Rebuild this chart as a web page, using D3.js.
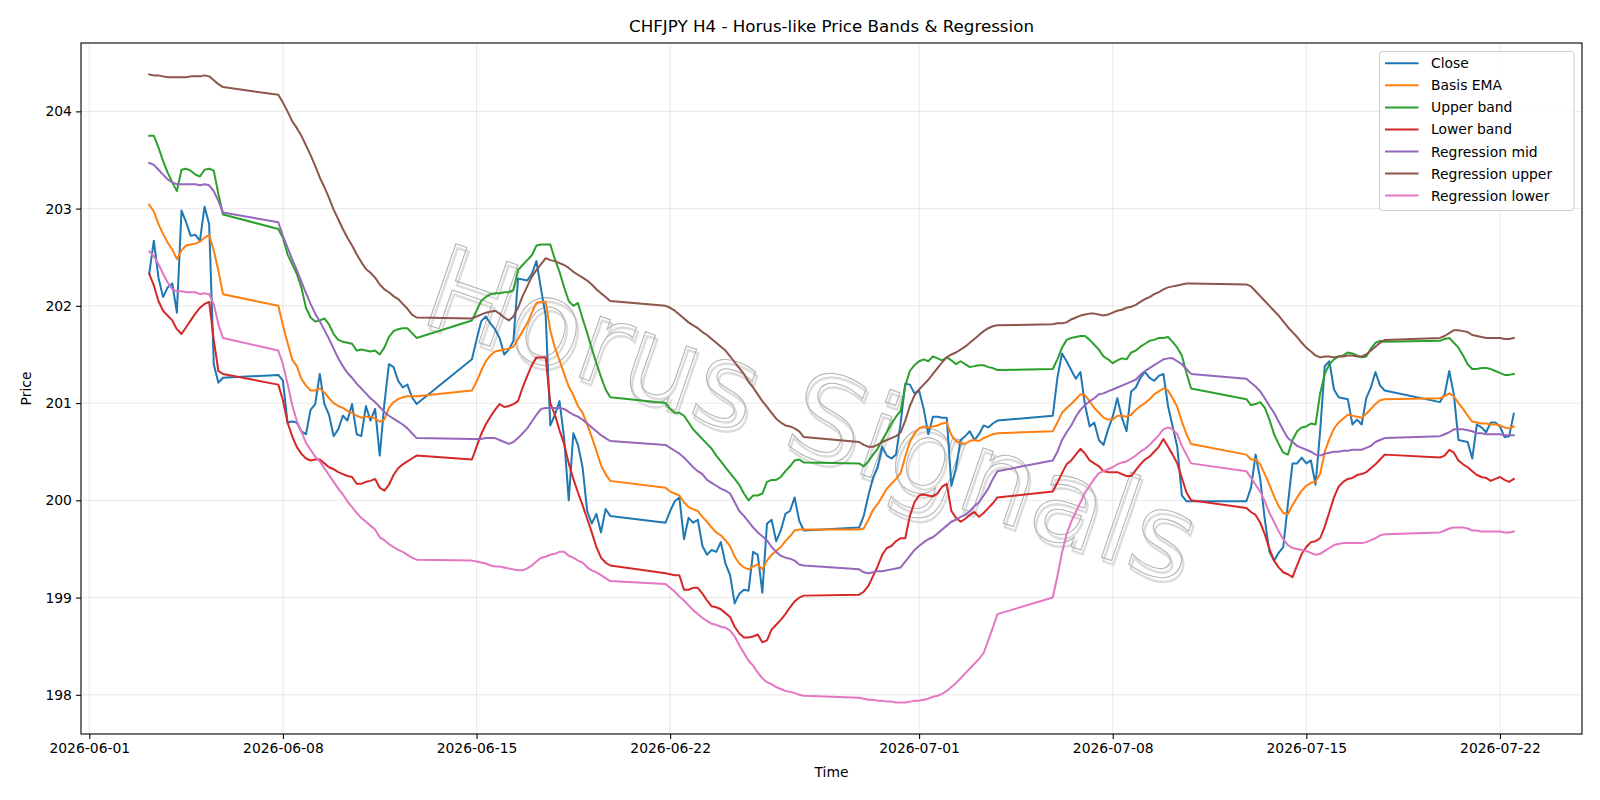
<!DOCTYPE html>
<html><head><meta charset="utf-8">
<script src="https://cdn.jsdelivr.net/npm/d3@7"></script>
<style>
body{margin:0;background:#fff}
svg{display:block}
text{font-family:"DejaVu Sans",sans-serif}
</style>
</head><body>
<svg id="chart" width="1600" height="800"></svg>
<script>
// ---- trading sessions (4h bars, weekend gaps) ----
const sessions = [
  ["2026-06-03T04:00:00Z","2026-06-05T20:00:00Z"],
  ["2026-06-07T20:00:00Z","2026-06-12T20:00:00Z"],
  ["2026-06-14T20:00:00Z","2026-06-19T20:00:00Z"],
  ["2026-06-21T20:00:00Z","2026-06-26T20:00:00Z"],
  ["2026-06-28T20:00:00Z","2026-07-03T20:00:00Z"],
  ["2026-07-05T20:00:00Z","2026-07-10T20:00:00Z"],
  ["2026-07-12T20:00:00Z","2026-07-17T20:00:00Z"],
  ["2026-07-19T20:00:00Z","2026-07-22T12:00:00Z"]
];

const close = [
202.33,202.67,202.29,202.09,202.19,202.23,201.93,202.98,202.86,202.72,202.73,202.67,203.02,202.84,201.40,201.21,201.26,
201.29,201.23,200.80,200.81,200.80,200.71,200.68,200.93,200.99,201.30,200.99,200.88,200.66,200.73,200.87,200.82,200.99,200.68,200.66,200.97,200.82,200.94,200.46,200.99,201.40,201.37,201.23,201.16,201.19,201.06,200.99,
201.45,201.65,201.84,201.89,201.82,201.76,201.67,201.50,201.55,201.64,202.28,202.27,202.26,202.33,202.46,202.17,201.90,200.77,200.88,201.02,200.64,200.00,200.69,200.57,200.34,199.89,199.76,199.86,199.67,199.91,199.84,
199.77,199.89,199.99,200.03,199.60,199.82,199.77,199.80,199.53,199.44,199.49,199.47,199.57,199.35,199.23,198.94,199.04,199.08,199.07,199.47,199.44,199.05,199.76,199.80,199.58,199.69,199.86,199.89,200.03,199.79,199.69,
199.72,199.84,200.05,200.23,200.34,200.55,200.46,200.43,200.47,200.80,201.20,201.19,201.10,201.13,200.94,200.68,200.86,200.86,200.85,200.85,200.15,200.33,200.62,200.66,200.71,200.62,200.68,200.77,200.75,200.79,200.82,
200.87,201.26,201.51,201.43,201.34,201.25,201.32,200.98,200.76,200.80,200.62,200.57,200.73,200.86,201.05,200.85,200.71,201.12,201.16,201.26,201.32,201.26,201.23,201.28,201.30,200.97,200.76,200.55,200.05,199.99,199.99,
199.99,200.13,200.47,200.22,199.80,199.47,199.38,199.46,199.52,199.96,200.38,200.38,200.44,200.38,200.41,200.16,200.71,201.38,201.43,201.14,201.06,201.05,201.04,200.78,200.83,200.78,201.05,201.16,201.32,201.18,201.13,
201.01,201.09,201.33,201.09,200.62,200.61,200.60,200.43,200.78,200.75,200.70,200.80,200.80,200.76,200.65,200.66,200.89
];

const basisEma = [
203.04,202.97,202.84,202.74,202.65,202.58,202.48,202.57,202.62,202.63,202.64,202.66,202.70,202.73,202.57,202.36,202.12,
202.00,201.80,201.62,201.45,201.38,201.25,201.18,201.13,201.13,201.15,201.11,201.05,201.00,200.97,200.95,200.92,200.90,200.87,200.85,200.86,200.86,200.84,200.81,200.83,200.95,201.01,201.04,201.06,201.07,201.07,201.07,
201.13,201.22,201.33,201.43,201.49,201.53,201.54,201.55,201.56,201.58,201.66,201.74,201.82,201.93,202.03,202.04,202.04,201.75,201.57,201.44,201.30,201.17,201.08,200.97,200.90,200.78,200.65,200.51,200.36,200.27,200.20,
200.13,200.09,200.07,200.05,199.98,199.93,199.91,199.89,199.83,199.78,199.72,199.67,199.64,199.59,199.53,199.42,199.35,199.31,199.29,199.32,199.34,199.29,199.38,199.44,199.48,199.52,199.58,199.63,199.69,199.70,199.70,
199.70,199.71,199.80,199.90,199.96,200.04,200.12,200.17,200.22,200.28,200.45,200.60,200.69,200.74,200.76,200.75,200.76,200.77,200.79,200.80,200.67,200.61,200.59,200.58,200.61,200.62,200.61,200.64,200.66,200.68,200.69,
200.71,200.80,200.90,200.95,200.99,201.04,201.09,201.08,201.02,200.95,200.90,200.85,200.83,200.83,200.87,200.87,200.86,200.88,200.93,200.97,201.00,201.04,201.09,201.12,201.15,201.13,201.05,200.96,200.81,200.68,200.58,
200.47,200.42,200.42,200.37,200.27,200.16,200.04,199.94,199.87,199.86,199.95,200.03,200.10,200.15,200.18,200.19,200.27,200.50,200.63,200.74,200.80,200.84,200.88,200.87,200.86,200.85,200.89,200.94,200.99,201.03,201.04,
201.05,201.07,201.10,201.07,201.00,200.94,200.87,200.81,200.80,200.79,200.79,200.78,200.78,200.77,200.75,200.74,200.76
];

const upperBand = [
203.75,203.75,203.63,203.49,203.37,203.27,203.18,203.40,203.41,203.39,203.35,203.33,203.40,203.41,203.39,203.15,202.94,
202.79,202.70,202.53,202.43,202.33,202.19,201.98,201.88,201.84,201.85,201.87,201.81,201.71,201.65,201.63,201.62,201.61,201.54,201.55,201.54,201.53,201.54,201.50,201.57,201.68,201.74,201.76,201.77,201.77,201.72,201.67,
201.85,201.95,202.05,202.09,202.12,202.13,202.13,202.14,202.14,202.16,202.37,202.42,202.47,202.52,202.62,202.63,202.63,202.63,202.48,202.35,202.19,202.05,202.00,202.03,201.87,201.72,201.56,201.41,201.27,201.14,201.06,
201.00,200.94,200.90,200.90,200.87,200.80,200.73,200.68,200.63,200.58,200.53,200.46,200.40,200.34,200.28,200.22,200.16,200.07,200.00,200.05,200.05,200.07,200.19,200.21,200.21,200.24,200.30,200.35,200.41,200.42,200.39,
200.38,200.35,200.40,200.47,200.53,200.62,200.70,200.79,200.86,200.92,201.18,201.33,201.39,201.43,201.45,201.43,201.48,201.46,201.44,201.47,201.44,201.40,201.43,201.40,201.37,201.38,201.39,201.39,201.37,201.36,201.34,
201.35,201.45,201.57,201.65,201.67,201.68,201.69,201.69,201.65,201.60,201.55,201.48,201.45,201.41,201.44,201.46,201.45,201.52,201.54,201.58,201.61,201.64,201.65,201.67,201.67,201.68,201.63,201.57,201.49,201.31,201.15,
201.04,200.98,200.99,201.01,200.95,200.83,200.68,200.58,200.49,200.47,200.62,200.71,200.75,200.76,200.79,200.78,201.10,201.30,201.40,201.45,201.48,201.49,201.52,201.51,201.49,201.47,201.48,201.56,201.62,201.64,201.63,
201.64,201.66,201.67,201.62,201.57,201.49,201.40,201.35,201.35,201.36,201.36,201.35,201.33,201.31,201.29,201.29,201.30
];

const lowerBand = [
202.33,202.21,202.05,201.95,201.90,201.85,201.76,201.71,201.78,201.85,201.92,201.98,202.02,202.04,201.65,201.33,201.30,
201.19,201.03,200.80,200.66,200.55,200.48,200.43,200.41,200.42,200.42,200.38,200.34,200.32,200.29,200.27,200.25,200.24,200.17,200.17,200.19,200.20,200.22,200.13,200.10,200.16,200.26,200.33,200.37,200.40,200.43,200.46,
200.42,200.55,200.68,200.78,200.86,200.93,200.99,200.96,200.97,200.99,201.02,201.16,201.28,201.39,201.47,201.47,201.47,201.00,200.88,200.72,200.58,200.38,200.22,200.08,199.95,199.81,199.67,199.52,199.41,199.36,199.33,
199.25,199.24,199.23,199.23,199.08,199.08,199.10,199.10,199.04,198.97,198.91,198.90,198.88,198.84,198.80,198.70,198.63,198.59,198.59,198.60,198.62,198.54,198.56,198.67,198.72,198.77,198.83,198.90,198.96,199.00,199.02,
199.03,199.06,199.12,199.22,199.32,199.44,199.51,199.53,199.58,199.61,199.61,199.84,199.98,200.05,200.06,200.05,200.04,200.07,200.14,200.17,199.89,199.82,199.78,199.81,199.85,199.88,199.83,199.87,199.92,199.97,200.03,
200.09,200.18,200.28,200.37,200.41,200.47,200.53,200.48,200.41,200.38,200.35,200.30,200.29,200.29,200.29,200.27,200.25,200.25,200.31,200.37,200.42,200.45,200.50,200.55,200.63,200.55,200.47,200.38,200.23,200.08,200.00,
199.92,199.88,199.85,199.77,199.65,199.50,199.38,199.31,199.26,199.24,199.21,199.33,199.45,199.52,199.57,199.58,199.61,199.73,199.88,200.03,200.14,200.19,200.22,200.23,200.26,200.27,200.29,200.33,200.37,200.42,200.47,
200.44,200.46,200.52,200.49,200.41,200.37,200.34,200.30,200.26,200.24,200.23,200.20,200.22,200.24,200.21,200.19,200.22
];

const regMid = [
203.47,203.45,203.40,203.35,203.30,203.27,203.25,203.25,203.25,203.25,203.25,203.24,203.25,203.24,203.18,203.08,202.96,
202.86,202.72,202.60,202.48,202.37,202.25,202.13,202.02,201.92,201.84,201.75,201.66,201.56,201.46,201.38,201.31,201.26,201.20,201.15,201.10,201.05,201.01,200.96,200.91,200.87,200.84,200.81,200.78,200.74,200.69,200.64,
200.63,200.63,200.63,200.64,200.64,200.64,200.62,200.60,200.58,200.60,200.64,200.69,200.74,200.81,200.88,200.94,200.95,200.95,200.95,200.95,200.94,200.91,200.88,200.86,200.83,200.79,200.75,200.71,200.67,200.64,200.61,
200.57,200.54,200.51,200.48,200.44,200.39,200.34,200.30,200.27,200.21,200.18,200.15,200.12,200.10,200.07,199.98,199.89,199.84,199.78,199.72,199.67,199.63,199.59,199.52,199.47,199.43,199.41,199.40,199.38,199.34,199.33,
199.29,199.26,199.25,199.26,199.27,199.27,199.28,199.29,199.30,199.31,199.37,199.43,199.49,199.53,199.57,199.60,199.62,199.66,199.70,199.74,199.78,199.80,199.83,199.85,199.89,199.94,199.98,200.05,200.12,200.22,200.30,
200.41,200.50,200.62,200.70,200.77,200.86,200.93,200.98,201.02,201.05,201.09,201.10,201.12,201.14,201.16,201.18,201.20,201.22,201.24,201.29,201.33,201.36,201.39,201.42,201.45,201.46,201.46,201.43,201.40,201.35,201.30,
201.25,201.21,201.17,201.12,201.05,200.97,200.90,200.81,200.72,200.64,200.60,200.56,200.54,200.52,200.50,200.47,200.46,200.48,200.49,200.50,200.50,200.51,200.51,200.52,200.52,200.52,200.54,200.56,200.60,200.62,200.64,
200.66,200.68,200.70,200.73,200.73,200.73,200.72,200.71,200.69,200.69,200.68,200.68,200.68,200.68,200.67,200.67,200.67
];

const regUpper = [
204.38,204.37,204.37,204.36,204.35,204.35,204.35,204.35,204.35,204.36,204.36,204.36,204.37,204.36,204.32,204.28,204.25,
204.17,204.09,204.00,203.90,203.83,203.75,203.65,203.55,203.44,203.32,203.22,203.11,202.99,202.89,202.79,202.70,202.62,202.53,202.45,202.38,202.34,202.29,202.22,202.17,202.14,202.10,202.07,202.02,201.97,201.91,201.88,
201.87,201.89,201.91,201.93,201.94,201.95,201.92,201.88,201.85,201.89,201.98,202.10,202.20,202.30,202.37,202.43,202.49,202.47,202.46,202.44,202.42,202.39,202.35,202.32,202.29,202.26,202.22,202.17,202.13,202.09,202.05,
202.00,201.98,201.95,201.91,201.87,201.83,201.80,201.77,201.73,201.70,201.66,201.62,201.58,201.54,201.48,201.42,201.36,201.30,201.22,201.16,201.09,201.02,200.96,200.90,200.84,200.80,200.77,200.76,200.74,200.71,200.65,
200.60,200.57,200.55,200.55,200.57,200.60,200.62,200.64,200.66,200.70,200.82,200.97,201.08,201.14,201.19,201.24,201.30,201.36,201.42,201.47,201.50,201.52,201.55,201.58,201.62,201.66,201.70,201.74,201.77,201.79,201.80,
201.81,201.82,201.82,201.83,201.86,201.88,201.90,201.91,201.92,201.92,201.91,201.90,201.91,201.93,201.95,201.96,201.98,201.99,202.01,202.04,202.07,202.09,202.12,202.14,202.17,202.19,202.20,202.21,202.22,202.23,202.23,
202.22,202.20,202.15,202.10,202.05,202.00,201.95,201.90,201.84,201.78,201.73,201.68,201.62,201.57,201.53,201.49,201.47,201.48,201.48,201.47,201.48,201.48,201.49,201.49,201.48,201.48,201.50,201.54,201.58,201.62,201.65,
201.67,201.69,201.72,201.75,201.75,201.74,201.73,201.70,201.69,201.68,201.67,201.67,201.67,201.67,201.66,201.66,201.67
];

const regLower = [
202.56,202.51,202.43,202.33,202.24,202.17,202.15,202.15,202.14,202.14,202.14,202.12,202.13,202.12,202.02,201.81,201.67,
201.54,201.40,201.20,200.98,200.82,200.71,200.59,200.52,200.45,200.40,200.33,200.26,200.19,200.12,200.06,199.99,199.93,199.87,199.82,199.78,199.74,199.70,199.62,199.59,199.55,199.52,199.49,199.47,199.44,199.41,199.39,
199.38,199.37,199.36,199.35,199.33,199.32,199.32,199.31,199.30,199.29,199.28,199.28,199.30,199.33,199.37,199.41,199.42,199.44,199.45,199.47,199.47,199.43,199.41,199.38,199.36,199.31,199.28,199.26,199.23,199.20,199.17,
199.14,199.10,199.06,199.01,198.97,198.92,198.87,198.83,198.79,198.76,198.73,198.72,198.70,198.69,198.66,198.60,198.51,198.43,198.35,198.30,198.23,198.17,198.13,198.11,198.08,198.06,198.04,198.03,198.02,198.00,197.99,
197.97,197.96,197.95,197.95,197.94,197.94,197.93,197.93,197.92,197.92,197.92,197.93,197.94,197.94,197.95,197.96,197.98,197.99,198.01,198.04,198.08,198.12,198.17,198.22,198.27,198.32,198.37,198.43,198.56,198.69,198.83,
199.00,199.22,199.46,199.65,199.78,199.88,199.98,200.08,200.15,200.22,200.28,200.30,200.32,200.34,200.37,200.39,200.40,200.43,200.46,200.50,200.53,200.57,200.62,200.67,200.73,200.75,200.73,200.68,200.56,200.47,200.38,
200.30,200.23,200.16,200.09,199.99,199.87,199.78,199.68,199.60,199.54,199.51,199.50,199.49,199.48,199.46,199.44,199.45,199.48,199.51,199.54,199.55,199.56,199.56,199.56,199.56,199.56,199.57,199.59,199.61,199.64,199.65,
199.67,199.69,199.71,199.72,199.72,199.72,199.71,199.69,199.69,199.68,199.68,199.68,199.68,199.68,199.67,199.67,199.68
];

const seriesNames  = ["Close","Basis EMA","Upper band","Lower band","Regression mid","Regression upper","Regression lower"];
const seriesColors = ["#1f77b4","#ff7f0e","#2ca02c","#d62728","#9467bd","#8c564b","#e377c2"];
const xTickLabels  = ["2026-06-01","2026-06-08","2026-06-15","2026-06-22","2026-07-01","2026-07-08","2026-07-15","2026-07-22"];
const yTickValues  = [198,199,200,201,202,203,204];
const titleText    = "CHFJPY H4 - Horus-like Price Bands & Regression";
const xLabelText   = "Time";
const yLabelText   = "Price";
const watermarkText = "Horus Signals";

// ---- build ----
const times = sessions.flatMap(([a,b]) =>
  d3.utcHour.every(4).range(new Date(a), new Date(new Date(b).getTime() + 1)));
const seriesValues = [close, basisEma, upperBand, lowerBand, regMid, regUpper, regLower];

const M = {left:81, right:1582, top:43, bottom:734};
const svg = d3.select("#chart");

const tExt = d3.extent(times);
const tPad = (tExt[1] - tExt[0]) * 0.05;
const vAll = seriesValues.flat();
const vExt = d3.extent(vAll);
const vPad = (vExt[1] - vExt[0]) * 0.05;

const x = d3.scaleUtc().domain([new Date(+tExt[0] - tPad), new Date(+tExt[1] + tPad)]).range([M.left, M.right]);
const y = d3.scaleLinear().domain([vExt[0] - vPad, vExt[1] + vPad]).range([M.bottom, M.top]);

svg.append("rect").attr("width",1600).attr("height",800).attr("fill","#fff");

const xTickDates = xTickLabels.map(s => new Date(s + "T00:00:00Z"));

// grid
const grid = svg.append("g").attr("stroke","#b0b0b0").attr("stroke-opacity",0.35).attr("stroke-width",0.8);
grid.selectAll("line.v").data(xTickDates).join("line")
  .attr("x1",d=>x(d)).attr("x2",d=>x(d)).attr("y1",M.top).attr("y2",M.bottom);
grid.selectAll("line.h").data(yTickValues).join("line")
  .attr("x1",M.left).attr("x2",M.right).attr("y1",d=>y(d)).attr("y2",d=>y(d));

// watermark (hollow glyph outlines with a soft offset shadow)
const wm = svg.append("g").attr("transform","translate(812,414) rotate(19)");
wm.append("text").text(watermarkText)
  .attr("x",3).attr("y",3.5)
  .attr("text-anchor","middle").attr("dominant-baseline","central")
  .attr("font-size",118).attr("fill","none")
  .attr("stroke","#dcdcdc").attr("stroke-width",2.4);
wm.append("text").text(watermarkText)
  .attr("text-anchor","middle").attr("dominant-baseline","central")
  .attr("font-size",118).attr("fill","none")
  .attr("stroke","#b5b5b5").attr("stroke-width",1.1);

// lines
const line = d3.line().defined(d => d[1] != null && !isNaN(d[1]))
  .x(d => x(d[0])).y(d => y(d[1]));
seriesValues.forEach((vals, i) => {
  svg.append("path")
    .datum(times.map((t, k) => [t, vals[k]]))
    .attr("fill","none").attr("stroke",seriesColors[i])
    .attr("stroke-width",2).attr("stroke-linejoin","round").attr("stroke-linecap","square")
    .attr("d", line);
});

// axes
const xAxis = d3.axisBottom(x).tickValues(xTickDates).tickFormat(d3.utcFormat("%Y-%m-%d"))
  .tickSize(4.9).tickPadding(4.2);
const gx = svg.append("g").attr("transform",`translate(0,${M.bottom})`).call(xAxis);
const yAxis = d3.axisLeft(y).tickValues(yTickValues).tickFormat(d3.format("d"))
  .tickSize(4.9).tickPadding(4.2);
const gy = svg.append("g").attr("transform",`translate(${M.left},0)`).call(yAxis);
[gx, gy].forEach(g => {
  g.select(".domain").remove();
  g.selectAll(".tick line").attr("stroke","#000").attr("stroke-width",1.1);
  g.selectAll(".tick text").attr("font-size",13.9).attr("fill","#000")
    .attr("font-family","DejaVu Sans");
});

// spines
svg.append("rect").attr("x",M.left).attr("y",M.top)
  .attr("width",M.right-M.left).attr("height",M.bottom-M.top)
  .attr("fill","none").attr("stroke","#000").attr("stroke-width",1.1);

// title & labels
svg.append("text").attr("x",(M.left+M.right)/2).attr("y",32)
  .attr("text-anchor","middle").attr("font-size",16.7).attr("fill","#000").text(titleText);
svg.append("text").attr("x",(M.left+M.right)/2).attr("y",777)
  .attr("text-anchor","middle").attr("font-size",13.9).attr("fill","#000").text(xLabelText);
svg.append("text").attr("transform",`translate(31,${(M.top+M.bottom)/2}) rotate(-90)`)
  .attr("text-anchor","middle").attr("font-size",13.9).attr("fill","#000").text(yLabelText);

// legend
const lg = svg.append("g");
lg.append("rect").attr("x",1379.5).attr("y",51.5).attr("width",194.5).attr("height",159)
  .attr("rx",3).attr("fill","#fff").attr("fill-opacity",0.8)
  .attr("stroke","#cccccc").attr("stroke-width",1);
seriesNames.forEach((n, i) => {
  const yy = 63.3 + i * 22.05;
  lg.append("line").attr("x1",1385).attr("x2",1418.5).attr("y1",yy).attr("y2",yy)
    .attr("stroke",seriesColors[i]).attr("stroke-width",2);
  lg.append("text").attr("x",1431).attr("y",yy).attr("dy","0.36em")
    .attr("font-size",13.9).attr("fill","#000").text(n);
});
</script>
</body></html>
